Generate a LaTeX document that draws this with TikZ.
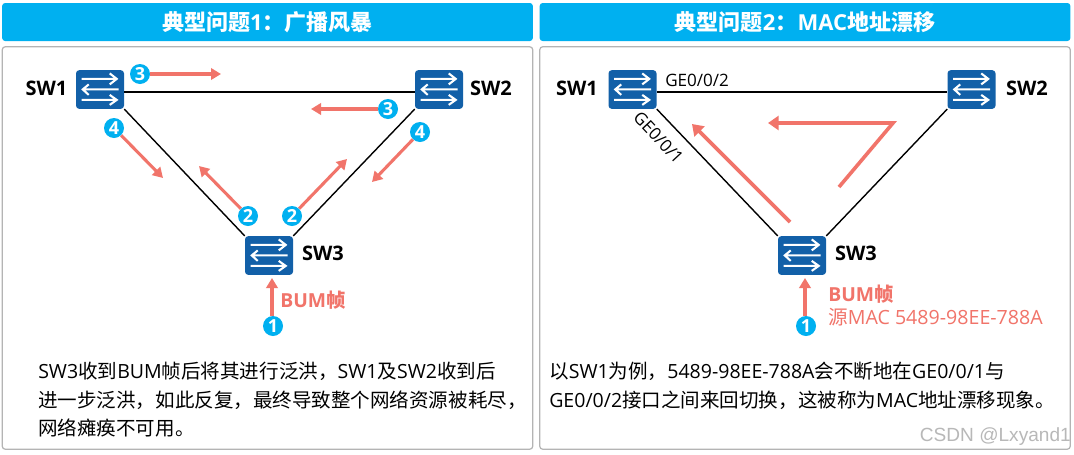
\documentclass[tikz,border=0pt]{standalone}
\usepackage{fontspec}
\usetikzlibrary{arrows.meta}
\setmainfont{Noto Sans CJK SC}
\newfontfamily\latfont{Open Sans}
\newfontfamily\wmfont{Liberation Sans}
\newcommand{\la}[1]{{\latfont #1}}
\definecolor{hdrblue}{HTML}{00B0F0}
\definecolor{swblue}{HTML}{1260A8}
\definecolor{salmon}{HTML}{F1746A}
\definecolor{panelgray}{HTML}{B4B4B4}
\tikzset{
  hdr/.style={fill=hdrblue,rounded corners=2.2pt,inner sep=0pt,minimum width=398pt,minimum height=28.5pt,text=white,font=\fontsize{16.5}{18}\selectfont\bfseries},
  panelbox/.style={draw=panelgray,line width=0.9pt,fill=white,rounded corners=2.5pt,inner sep=0pt,minimum width=398pt,minimum height=302pt},
  switchbox/.style={fill=swblue,rounded corners=2.4pt,inner sep=0pt,minimum width=36pt,minimum height=29pt},
  swglyph/.style={draw=white,line width=1.55pt},
  link/.style={draw=black,line width=1.05pt},
  swlabel/.style={inner sep=0pt,font=\fontsize{15}{18}\selectfont\latfont\bfseries},
  step num/.style={circle,fill=hdrblue,text=white,inner sep=0pt,minimum size=15pt,font=\fontsize{13.5}{14}\selectfont\latfont\bfseries},
  flow/.style={draw=salmon,line width=2.3pt,-{Triangle[length=7.5pt,width=8.5pt]}},
  bigflow/.style={draw=salmon,line width=2.7pt,-{Triangle[length=8pt,width=10.5pt]}},
  body/.style={inner sep=0pt,anchor=north west,align=left,font=\fontsize{14.65}{21.3}\selectfont},
  port/.style={inner sep=0pt,font=\fontsize{12.8}{14}\selectfont\latfont},
  redtxt/.style={inner sep=0pt,anchor=west,text=salmon},
}
\newcommand{\swicon}[1]{%
  \begin{scope}[shift={(#1.north west)}]
    \draw[swglyph] (6,9)--(41,9) (34,3.5)--(41,9)--(34,14.5);
    \draw[swglyph] (43,19.5)--(7,19.5) (13,14.5)--(7,19.5)--(13,25);
    \draw[swglyph] (6,30)--(41,30) (34,25)--(41,30)--(34,35);
  \end{scope}}
\begin{document}
\begin{tikzpicture}[x=0.75pt,y=-0.75pt]
\useasboundingbox (0,0) rectangle (1074,454);
\fill[white] (0,0) rectangle (1074,454);
% headers
\node[hdr] (h1) at (267.5,22) {典型问题\la{1}：广播风暴};
\node[hdr] (h2) at (805,22) {典型问题\la{2}：\la{MAC}地址漂移};
\node[panelbox] (p1) at (267.5,248) {};
\node[panelbox] (p2) at (805,248) {};
% left switches
\node[switchbox] (a1) at (100,89.5) {};
\node[switchbox] (a2) at (439,89.5) {};
\node[switchbox] (a3) at (269,255.5) {};
\swicon{a1}\swicon{a2}\swicon{a3}
\draw[link] ([yshift=-1.9pt]a1.east) -- ([yshift=-1.9pt]a2.west);
\draw[link] (a1.south east) -- (a3.north west);
\draw[link] (a2.south west) -- (a3.north east);
\node[swlabel] (a1l) at (46.5,88) {SW1};
\node[swlabel] (a2l) at (491,88) {SW2};
\node[swlabel] (a3l) at (323,253) {SW3};
% left step markers
\node[step num] (n3a) at (140,74) {3};
\node[step num] (n3b) at (388,109) {3};
\node[step num] (n4a) at (114,128) {4};
\node[step num] (n4b) at (420,132) {4};
\node[step num] (n2a) at (248,216) {2};
\node[step num] (n2b) at (292,216) {2};
\node[step num] (n1a) at (273,326) {1};
\coordinate (e3a) at (221,74);
\coordinate (e3b) at (311,109);
\coordinate (e4a) at (163,178);
\coordinate (e4b) at (372,182);
\coordinate (e2a) at (199,166);
\coordinate (e2b) at (347,159);
\coordinate (e1a) at (272,278);
\draw[flow] (n3a) -- (e3a);
\draw[flow] (n3b) -- (e3b);
\draw[flow] (n4a) -- (e4a);
\draw[flow] (n4b) -- (e4b);
\draw[flow] (n2a) -- (e2a);
\draw[flow] (n2b) -- (e2b);
\draw[flow] (n1a.north -| e1a) -- (e1a);
\node[redtxt,font=\fontsize{14.5}{16}\selectfont\bfseries] (bum1) at (280,300) {\la{BUM}帧};
\node[body] (t1) at (38,362) {\la{SW3}收到\la{BUM}帧后将其进行泛洪，\la{SW1}及\la{SW2}收到后\\进一步泛洪，如此反复，最终导致整个网络资源被耗尽，\\网络瘫痪不可用。};
% right switches
\node[switchbox] (b1) at (632.5,89.5) {};
\node[switchbox] (b2) at (971.5,89.5) {};
\node[switchbox] (b3) at (802,255.5) {};
\swicon{b1}\swicon{b2}\swicon{b3}
\draw[link] ([yshift=-1.9pt]b1.east) -- ([yshift=-1.9pt]b2.west);
\draw[link] (b1.south east) -- (b3.north west);
\draw[link] (b2.south west) -- (b3.north east);
\node[swlabel] (b1l) at (577,88) {SW1};
\node[swlabel] (b2l) at (1027,88) {SW2};
\node[swlabel] (b3l) at (856,253) {SW3};
\node[port,anchor=west] (g2) at (665,80) {GE0/0/2};
\node[port,rotate=-47] (g1) at (658.5,137.5) {GE0/0/1};
\coordinate (s0) at (790,222);
\coordinate (s1) at (692,124);
\coordinate (k0) at (839,187);
\coordinate (k1) at (893,123);
\coordinate (k2) at (768,123);
\draw[bigflow] (s0) -- (s1);
\draw[bigflow,miter limit=10] (k0) -- (k1) -- (k2);
\node[step num] (n1b) at (806,326) {1};
\coordinate (e1b) at (805,278);
\draw[flow] (n1b.north -| e1b) -- (e1b);
\node[redtxt,font=\fontsize{14.5}{16}\selectfont\bfseries] (bum2) at (828,294) {\la{BUM}帧};
\node[redtxt,font=\fontsize{14.7}{16}\selectfont] (src) at (828,317) {源\la{MAC 5489-98EE-788A}};
\node[body] (t2) at (549,362) {以\la{SW1}为例，\la{5489-98EE-788A}会不断地在\la{GE0/0/1}与\\\la{GE0/0/2}接口之间来回切换，这被称为\la{MAC}地址漂移现象。};
\node[inner sep=0pt,anchor=east,text=black!28,font=\fontsize{14.3}{15}\selectfont\wmfont] (wm) at (1071,437) {CSDN @Lxyand1};
\end{tikzpicture}
\end{document}
